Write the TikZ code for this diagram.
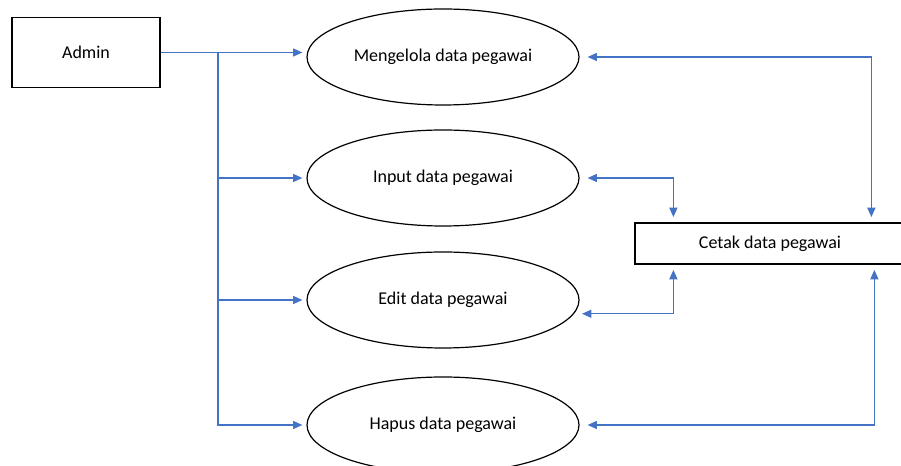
\documentclass[tikz,border=0pt]{standalone}
\usepackage{fontspec}
\setmainfont{Carlito}
\usetikzlibrary{shapes.geometric,arrows.meta,calc}
\definecolor{garis}{HTML}{4472C4}

\begin{document}
\begin{tikzpicture}[x=0.75pt, y=-0.75pt,
    every node/.style={font=\fontsize{13.5}{16}\selectfont},
    entitas/.style={draw, line width=0.9pt, inner sep=0pt},
    proses/.style={draw, ellipse, line width=0.9pt, inner sep=0pt,
      minimum width=204pt, minimum height=72pt},
    ujung/.style={Triangle[length=7pt, width=6pt]},
    alur/.style={draw=garis, line width=1pt, -{Triangle[length=7pt, width=6pt]}, shorten >=3pt},
    dua/.style={draw=garis, line width=1pt,
      {Triangle[length=7pt, width=6pt]}-{Triangle[length=7pt, width=6pt]},
      shorten <=6pt, shorten >=4pt}]
  \useasboundingbox (0,0) rectangle (901,466);
  \node[entitas, minimum width=111pt, minimum height=52pt] (admin) at (86,52.5) {Admin};
  \node[proses] (kelola) at (443,57) {Mengelola data pegawai};
  \node[proses] (input) at (443,178) {Input data pegawai};
  \node[proses] (edit) at (443,300) {Edit data pegawai};
  \node[proses] (hapus) at (443,425) {Hapus data pegawai};
  \node[entitas, minimum width=202.5pt, minimum height=30.75pt] (cetak) at (770,243.5) {Cetak data pegawai};

  \coordinate (cabang) at (admin.east -| 218,0);
  \coordinate (c1) at ($(cetak.north west)+(39,0)$);
  \coordinate (c2) at ($(cetak.north west)+(237,0)$);
  \coordinate (c3) at ($(cetak.south west)+(39,0)$);
  \coordinate (c4) at ($(cetak.south west)+(240,0)$);

  \draw[alur] (admin.east) -- (admin.east -| kelola.west);
  \draw[alur] (cabang) |- (input.west);
  \draw[alur] (cabang) |- (edit.west);
  \draw[alur] (cabang) |- (hapus.west);

  \draw[dua] (kelola.east) -| (c2);
  \draw[dua] (input.east) -| (c1);
  \draw[dua] (edit.-6) -| (c3);
  \draw[dua] (hapus.east) -| (c4);
\end{tikzpicture}
\end{document}
